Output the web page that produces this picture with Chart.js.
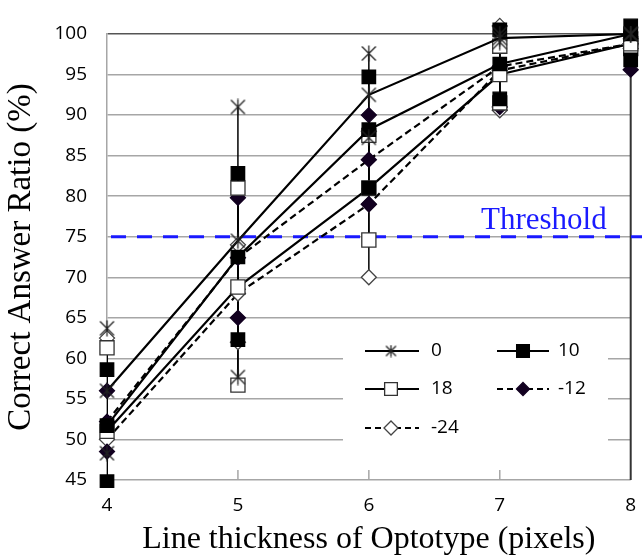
<!DOCTYPE html>
<html>
<head>
<meta charset="utf-8">
<script src="https://cdn.jsdelivr.net/npm/chart.js@4.4.1/dist/chart.umd.min.js"></script>
<style>
  html, body { margin: 0; padding: 0; background: #fff; }
  #wrap { width: 642px; height: 555px; }
</style>
</head>
<body>
<div id="wrap"><canvas id="c"></canvas></div>
<script>
/* ---------- data ---------- */
const X_VALS = [4, 5, 6, 7, 8];
const Y_TICKS = { min: 45, max: 100, step: 5 };
const THRESHOLD = 75;

// mean / lower end / upper end of each error bar
const MEAN_0   = [56.0, 74.5, 92.5, 99.5, 100.0];
const LO_0     = [48.3, 57.7, 87.2, 99.0, 100.0];
const HI_0     = [63.7, 91.0, 97.6, 100.0, 100.0];

const MEAN_10  = [51.7, 72.5, 88.2, 96.3, 100.0];
const LO_10    = [44.8, 62.3, 81.0, 92.0, 96.8];
const HI_10    = [58.6, 82.8, 94.7, 100.5, 101.0];

const MEAN_18  = [51.0, 68.8, 81.0, 95.0, 98.8];
const LO_18    = [40.7, 56.7, 74.6, 91.5, 98.2];
const HI_18    = [61.3, 81.0, 87.5, 98.5, 99.4];

const MEAN_M12 = [52.2, 72.4, 84.5, 96.0, 98.8];
const LO_M12   = [48.5, 65.0, 79.0, 91.0, 95.6];
const HI_M12   = [56.0, 79.8, 90.0, 101.5, 102.0];

const MEAN_M24 = [50.0, 68.0, 79.0, 95.5, 98.8];
const LO_M24   = [37.5, 62.0, 70.0, 90.6, 98.2];
const HI_M24   = [62.5, 74.0, 88.0, 101.0, 99.4];

/* ---------- marker: Excel-like asterisk ---------- */
function asterisk(sz){
  const cv = document.createElement('canvas');
  cv.width = sz; cv.height = sz;
  const g = cv.getContext('2d');
  g.strokeStyle = '#222'; g.lineWidth = 1.3;
  const m = 1.5, c = sz/2;
  g.beginPath();
  g.moveTo(m, m); g.lineTo(sz-m, sz-m);
  g.moveTo(sz-m, m); g.lineTo(m, sz-m);
  g.moveTo(c, 0.5); g.lineTo(c, sz-0.5);
  g.stroke();
  return cv;
}
const STAR_BIG = asterisk(17);
const STAR_SMALL = asterisk(13);

/* ---------- series ---------- */
const SERIES = [
  { name: '0',   mean: MEAN_0,   lo: LO_0,   hi: HI_0,   dash: [],     style: STAR_BIG, legStyle: STAR_SMALL, r: 8,   fill: '#000', edge: '#222' },
  { name: '10',  mean: MEAN_10,  lo: LO_10,  hi: HI_10,  dash: [],     style: 'rect',   r: 9.5, legR: 9,  fill: '#000', edge: '#000' },
  { name: '18',  mean: MEAN_18,  lo: LO_18,  hi: HI_18,  dash: [],     style: 'rect',   r: 10,  legR: 9,  fill: '#fff', edge: '#333' },
  { name: '-12', mean: MEAN_M12, lo: LO_M12, hi: HI_M12, dash: [7, 4], style: 'rectRot', r: 7.5, legR: 6.5, fill: '#120020', edge: '#120020' },
  { name: '-24', mean: MEAN_M24, lo: LO_M24, hi: HI_M24, dash: [7, 4], style: 'rectRot', r: 7.5, legR: 7, fill: '#fff', edge: '#444' }
];

const CLIP = { left: 12, top: 30, right: 12, bottom: 8 };

const datasets = [];
SERIES.forEach(s => {
  datasets.push({
    label: s.name,
    data: X_VALS.map((x, j) => ({ x, y: s.mean[j] })),
    showLine: true,
    borderColor: '#000',
    borderWidth: 2.2,
    borderDash: s.dash,
    pointStyle: s.style,
    pointRadius: s.r,
    pointBackgroundColor: s.fill,
    pointBorderColor: s.edge,
    pointBorderWidth: 1.3,
    clip: CLIP
  });
  const ends = [];
  X_VALS.forEach((x, j) => { ends.push({ x, y: s.lo[j] }); ends.push({ x, y: s.hi[j] }); });
  datasets.push({
    label: s.name + ' range',
    data: ends,
    showLine: false,
    pointStyle: s.style,
    pointRadius: s.r,
    pointBackgroundColor: s.fill,
    pointBorderColor: s.edge,
    pointBorderWidth: 1.3,
    clip: CLIP
  });
});

/* ---------- drawing helpers ---------- */
const extras = {
  id: 'extras',
  beforeDatasetsDraw(chart){
    const { ctx, chartArea: a, scales: { x, y } } = chart;
    ctx.save();
    // inward ticks on x axis
    ctx.strokeStyle = '#a6a6a6'; ctx.lineWidth = 1.5;
    X_VALS.slice(1, -1).forEach(v => {
      const px = x.getPixelForValue(v);
      ctx.beginPath(); ctx.moveTo(px, a.bottom); ctx.lineTo(px, a.bottom - 10); ctx.stroke();
    });
    // right border at the last category
    ctx.strokeStyle = '#333'; ctx.lineWidth = 2;
    const rx = x.getPixelForValue(X_VALS[X_VALS.length - 1]);
    ctx.beginPath(); ctx.moveTo(rx, a.top); ctx.lineTo(rx, a.bottom); ctx.stroke();

    // threshold
    const ty = y.getPixelForValue(THRESHOLD);
    ctx.strokeStyle = '#1a1aff'; ctx.lineWidth = 3; ctx.setLineDash([15, 11]);
    ctx.beginPath(); ctx.moveTo(a.left + 4, ty); ctx.lineTo(chart.width, ty); ctx.stroke();
    ctx.setLineDash([]);
    ctx.fillStyle = '#1a1aff';
    ctx.font = '31px "Liberation Serif", "Times New Roman", serif';
    ctx.textAlign = 'right'; ctx.textBaseline = 'alphabetic';
    ctx.fillText('Threshold', rx - 24, ty - 8);

    // error bars
    ctx.beginPath(); ctx.rect(a.left, a.top, a.right - a.left + 10, a.bottom - a.top); ctx.clip();
    ctx.strokeStyle = '#000'; ctx.lineWidth = 1.5;
    SERIES.forEach(s => {
      X_VALS.forEach((v, j) => {
        const px = x.getPixelForValue(v);
        ctx.beginPath();
        ctx.moveTo(px, y.getPixelForValue(s.lo[j]));
        ctx.lineTo(px, y.getPixelForValue(s.hi[j]));
        ctx.stroke();
      });
    });
    ctx.restore();
  },
  afterDatasetsDraw(chart){
    const { ctx } = chart;
    ctx.save();
    // legend box
    ctx.fillStyle = '#fff';
    ctx.fillRect(343, 330, 265, 140);
    const cols = [{ lx: 365, mx: 391, rx: 419, tx: 431 }, { lx: 497, mx: 523, rx: 549, tx: 558 }];
    const rows = [351, 389, 428];
    ctx.font = '19px "Open Sans", sans-serif';
    ctx.textBaseline = 'middle'; ctx.textAlign = 'left';
    SERIES.forEach((s, k) => {
      const c = cols[k % 2], ry = rows[Math.floor(k / 2)];
      ctx.strokeStyle = '#000'; ctx.lineWidth = 2.2;
      ctx.setLineDash(s.dash.length ? [6, 4] : []);
      ctx.beginPath(); ctx.moveTo(c.lx, ry); ctx.lineTo(c.rx, ry); ctx.stroke();
      ctx.setLineDash([]);
      ctx.fillStyle = s.fill; ctx.strokeStyle = s.edge; ctx.lineWidth = 1.3;
      Chart.helpers.drawPoint(ctx, {
        pointStyle: s.legStyle || s.style,
        radius: s.legR || s.r,
        rotation: 0,
        borderWidth: 1.3
      }, c.mx, ry);
      ctx.fillStyle = '#000';
      ctx.fillText(s.name, c.tx, ry);
    });
    ctx.restore();
  }
};

/* ---------- chart ---------- */
new Chart(document.getElementById('c'), {
  type: 'scatter',
  data: { datasets },
  options: {
    responsive: true,
    maintainAspectRatio: false,
    animation: false,
    layout: { padding: { top: 34, right: 8, left: 0, bottom: -4 } },
    plugins: { legend: { display: false }, tooltip: { enabled: false } },
    elements: { line: { tension: 0 } },
    scales: {
      x: {
        type: 'linear',
        min: X_VALS[0], max: X_VALS[X_VALS.length - 1],
        ticks: { stepSize: 1, color: '#000', font: { family: 'Open Sans', size: 19 }, padding: 14 },
        grid: { display: false, drawTicks: false },
        border: { display: false },
        title: {
          display: true, text: 'Line thickness of Optotype (pixels)', color: '#000',
          font: { family: 'Liberation Serif', size: 32 }, padding: { top: 0, bottom: 0 }
        },
        afterFit(scale){ scale.height = 79; scale.paddingRight = 0; scale.paddingLeft = 0; }
      },
      y: {
        min: Y_TICKS.min, max: Y_TICKS.max,
        ticks: { stepSize: Y_TICKS.step, color: '#000', font: { family: 'Open Sans', size: 19 }, padding: 20 },
        grid: {
          color: c => c.tick && c.tick.value === Y_TICKS.max ? '#555' : '#a6a6a6',
          lineWidth: 1.5, drawTicks: false
        },
        border: { color: '#a6a6a6', width: 1.5 },
        title: {
          display: true, text: 'Correct Answer Ratio (%)', color: '#000',
          font: { family: 'Liberation Serif', size: 33 }, padding: { top: 2, bottom: 0 }
        },
        afterFit(scale){ scale.width = 107; }
      }
    }
  },
  plugins: [extras]
});
</script>
</body>
</html>
